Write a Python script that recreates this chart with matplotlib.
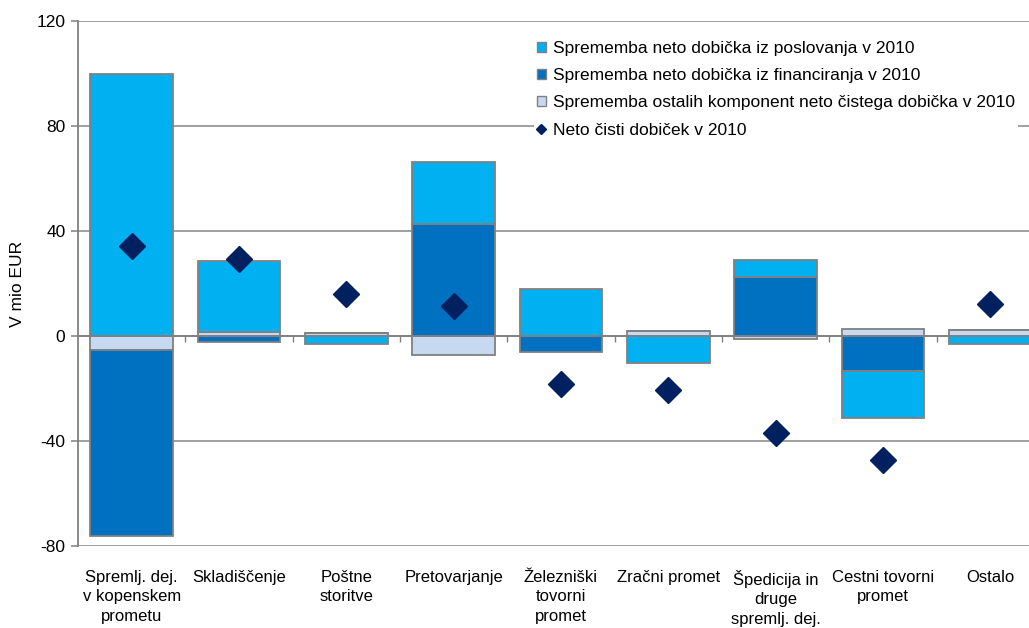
import numpy as np
import matplotlib
matplotlib.use("Agg")
import matplotlib.pyplot as plt
from matplotlib.patches import Patch
from matplotlib.lines import Line2D

plt.rcParams['font.family'] = ['Liberation Sans', 'DejaVu Sans']
plt.rcParams['font.size'] = 12
plt.rcParams['axes.unicode_minus'] = False

# categories and series (mio EUR)
categories = [
    "Spremlj. dej.\nv kopenskem\nprometu",
    "Skladiščenje",
    "Poštne\nstoritve",
    "Pretovarjanje",
    "Železniški\ntovorni\npromet",
    "Zračni promet",
    "Špedicija in\ndruge\nspremlj. dej.",
    "Cestni tovorni\npromet",
    "Ostalo",
]
other = [-5.2, 1.5, 1.2, -7.2, 0.0, 1.8, -1.1, 2.5, 2.3]
financing = [-71.0, -2.3, 0.0, 42.5, -6.1, 0.0, 22.4, -13.4, 0.0]
operating = [100.0, 27.0, -3.0, 23.9, 17.9, -10.2, 6.4, -17.7, -3.0]
net_profit = [34.2, 29.3, 16.0, 11.5, -18.3, -20.6, -37.0, -47.4, 12.2]

series_labels = [
    "Sprememba neto dobička iz poslovanja v 2010",
    "Sprememba neto dobička iz financiranja v 2010",
    "Sprememba ostalih komponent neto čistega dobička v 2010",
    "Neto čisti dobiček v 2010",
]

c_op = "#00B0F0"
c_fin = "#0070C0"
c_other = "#C6D9F1"
c_net = "#002060"
c_edge = "#808080"

W, H = 1029, 628
fig = plt.figure(figsize=(W / 100, H / 100), dpi=100)
ax = fig.add_axes([78 / W, 1 - 546 / H, (1044 - 78) / W, (546 - 21) / H])

x = np.arange(len(categories))
pos_base = np.zeros(len(x))
neg_base = np.zeros(len(x))
# stacking order: other components, financing, operating
for vals, col in [(other, c_other), (financing, c_fin), (operating, c_op)]:
    v = np.array(vals)
    bottom = np.where(v >= 0, pos_base, neg_base)
    ax.bar(x, v, bottom=bottom, width=0.77, color=col,
           edgecolor=c_edge, linewidth=1.3, zorder=1)
    pos_base += np.where(v > 0, v, 0)
    neg_base += np.where(v < 0, v, 0)

ax.plot(x, net_profit, linestyle='none', marker='D', ms=13,
        color=c_net, markeredgecolor=c_net, zorder=3)

ax.set_xlim(-0.5, len(x) - 0.5)
ax.set_ylim(-80, 120)
ax.set_yticks(np.arange(-80, 121, 40))
ax.yaxis.grid(True, color="#868686", linewidth=1.1)
ax.set_axisbelow(True)

for s in ['top', 'right']:
    ax.spines[s].set_visible(False)
ax.spines['left'].set_color(c_edge)
ax.spines['left'].set_linewidth(1.3)
ax.spines['bottom'].set_position(('data', 0))
ax.spines['bottom'].set_color(c_edge)
ax.spines['bottom'].set_linewidth(1.3)

ax.set_xticks(x[:-1] + 0.5)
ax.set_xticklabels([])
ax.tick_params(axis='x', length=4, color=c_edge, width=1)
ax.tick_params(axis='y', length=5, color=c_edge, width=1.1, pad=4,
               labelsize=12.5)
ax.set_ylabel("V mio EUR", fontsize=12.5, labelpad=8)

trans = ax.get_xaxis_transform()
for xi, lab in zip(x, categories):
    ax.text(xi, -0.045, lab, transform=trans, ha='center', va='top',
            multialignment='center', fontsize=12, linespacing=1.4)

handles = [
    Patch(facecolor=c_op, edgecolor=c_edge, linewidth=1),
    Patch(facecolor=c_fin, edgecolor=c_edge, linewidth=1),
    Patch(facecolor=c_other, edgecolor=c_edge, linewidth=1),
    Line2D([], [], linestyle='none', marker='D', ms=5, color=c_net),
]
leg = fig.legend(handles, series_labels, loc='upper left',
                 bbox_to_anchor=(525 / W, 1 - 29 / H), fontsize=12.5,
                 frameon=True, fancybox=False, handlelength=0.5,
                 handleheight=0.5, handletextpad=0.4, labelspacing=0.7,
                 borderpad=0.2)
leg.get_frame().set_edgecolor('none')
leg.get_frame().set_facecolor('white')
leg.get_frame().set_alpha(1)

fig.savefig("out.png", dpi=100)
